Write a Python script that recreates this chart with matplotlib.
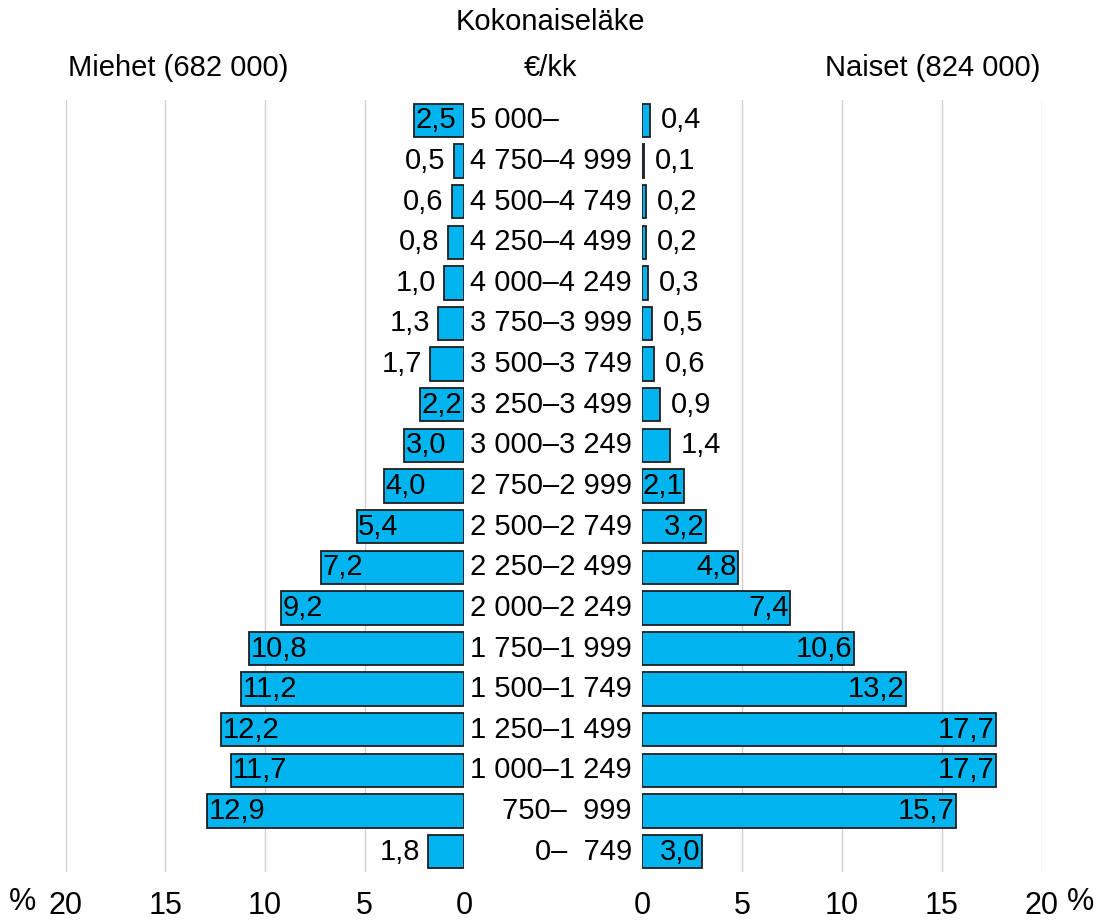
import matplotlib
matplotlib.use("Agg")
import matplotlib.pyplot as plt
import matplotlib.transforms as mtransforms

plt.rcParams["font.family"] = ["Liberation Sans", "DejaVu Sans"]

categories = ["5 000–", "4 750–4 999", "4 500–4 749", "4 250–4 499", "4 000–4 249",
              "3 750–3 999", "3 500–3 749", "3 250–3 499", "3 000–3 249", "2 750–2 999",
              "2 500–2 749", "2 250–2 499", "2 000–2 249", "1 750–1 999", "1 500–1 749",
              "1 250–1 499", "1 000–1 249", "750–  999", "0–  749"]
men = [2.5, 0.5, 0.6, 0.8, 1.0, 1.3, 1.7, 2.2, 3.0, 4.0, 5.4, 7.2, 9.2, 10.8, 11.2,
       12.2, 11.7, 12.9, 1.8]
women = [0.4, 0.1, 0.2, 0.2, 0.3, 0.5, 0.6, 0.9, 1.4, 2.1, 3.2, 4.8, 7.4, 10.6, 13.2,
         17.7, 17.7, 15.7, 3.0]
ticks = [0, 5, 10, 15, 20]

W, H = 1103, 922
fig = plt.figure(figsize=(W / 100, H / 100), dpi=100)

ax_bot = 1 - 872 / H
ax_h = 772 / H
axL = fig.add_axes([66 / W, ax_bot, 398 / W, ax_h])
axR = fig.add_axes([642 / W, ax_bot, 400 / W, ax_h])

FILL = "#00B4F0"
EDGE = "#1e1e1e"
FS = 21

n = len(categories)
ypos = list(range(n))

for ax, vals, side in [(axL, men, "L"), (axR, women, "R")]:
    ax.set_ylim(n - 0.5, -0.5)
    if side == "L":
        ax.set_xlim(20, 0)
    else:
        ax.set_xlim(0, 20)
    ax.barh(ypos, vals, height=0.82, color=FILL, edgecolor=EDGE, linewidth=1.3, zorder=3)
    for s in ax.spines.values():
        s.set_visible(False)
    ax.set_yticks([])
    ax.set_xticks(ticks)
    ax.set_xticklabels([str(t) for t in ticks], fontsize=FS + 1)
    ax.tick_params(axis="x", length=0, pad=14)
    for g in [5, 10, 15, 20]:
        ax.axvline(g, color="#cfcfcf", linewidth=1.0, zorder=1)
    for y, v in zip(ypos, vals):
        lab = f"{v:.1f}".replace(".", ",")
        if v >= 2.0:
            if side == "L":
                ax.annotate(lab, (v, y), xytext=(1, 0), textcoords="offset points",
                            ha="left", va="center", fontsize=FS, zorder=4)
            else:
                ax.annotate(lab, (v, y), xytext=(-1, 0), textcoords="offset points",
                            ha="right", va="center", fontsize=FS, zorder=4)
        else:
            if side == "L":
                ax.annotate(lab, (v, y), xytext=(-6, 0), textcoords="offset points",
                            ha="right", va="center", fontsize=FS, zorder=4)
            else:
                ax.annotate(lab, (v, y), xytext=(8, 0), textcoords="offset points",
                            ha="left", va="center", fontsize=FS, zorder=4)

trans = mtransforms.blended_transform_factory(fig.transFigure, axR.transData)
for y, c in zip(ypos, categories):
    if c.endswith("–"):
        fig.text(470 / W, y, c, transform=trans, ha="left", va="center", fontsize=FS)
    else:
        fig.text(632 / W, y, c, transform=trans, ha="right", va="center", fontsize=FS)

fig.text(550 / W, 1 - 22 / H, "Kokonaiseläke", ha="center", va="center", fontsize=FS)
fig.text(550 / W, 1 - 68 / H, "€/kk", ha="center", va="center", fontsize=FS)
fig.text(178 / W, 1 - 68 / H, "Miehet (682 000)", ha="center", va="center", fontsize=FS)
fig.text(933 / W, 1 - 68 / H, "Naiset (824 000)", ha="center", va="center", fontsize=FS)
fig.text(22 / W, 1 - 902 / H, "%", ha="center", va="center", fontsize=FS + 1)
fig.text(1080 / W, 1 - 902 / H, "%", ha="center", va="center", fontsize=FS + 1)

fig.savefig("out.png", dpi=100, facecolor="white")
